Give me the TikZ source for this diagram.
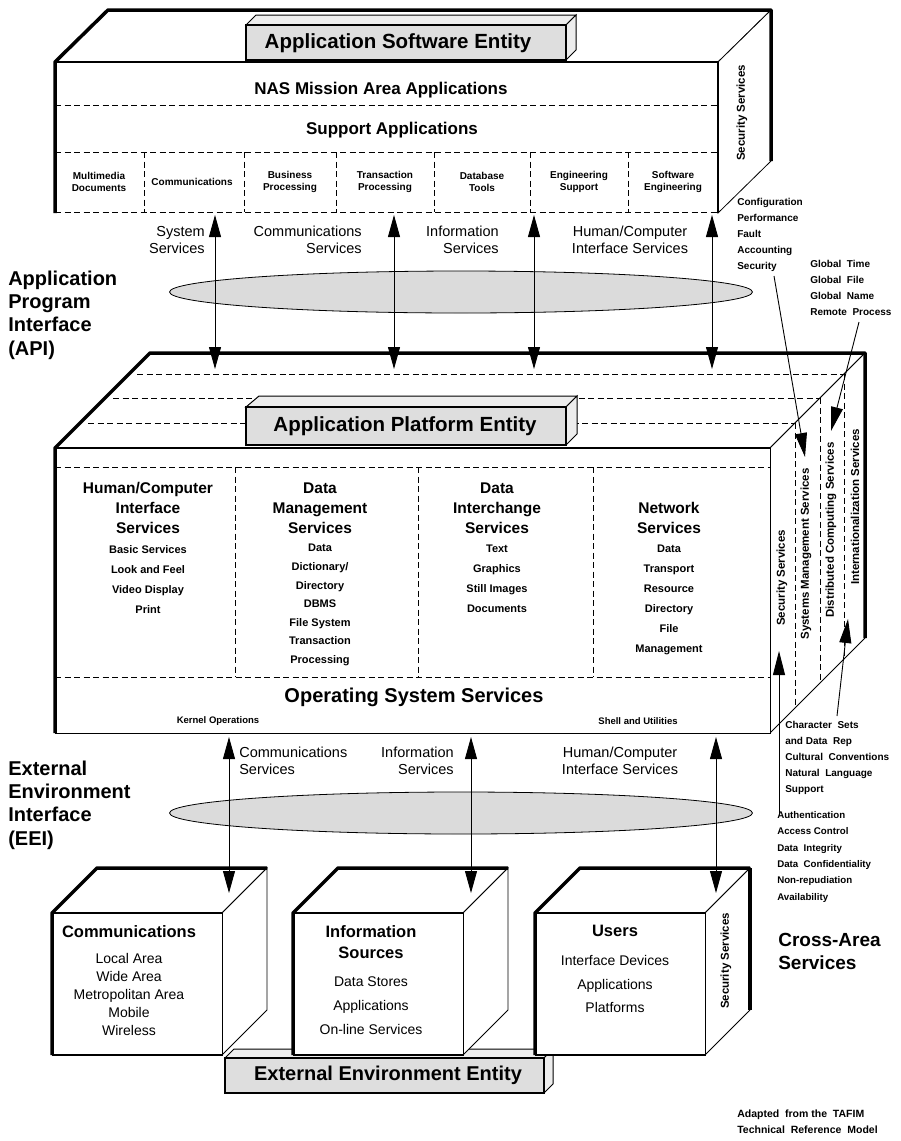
\documentclass[tikz,border=0pt]{standalone}
\usepackage{fontspec}
\setmainfont{Liberation Sans}
\usetikzlibrary{arrows.meta,positioning,shapes.geometric}

\begin{document}
\begin{tikzpicture}[
    x = 1pt, y = -1pt, % pixel grid, y runs down
    > = {Triangle[length=22pt,width=12pt]}, % arrow head style
    line join = miter,
    semithick % line style
    ]

    \tikzset{
    rim/.style = {line width=3.5pt, line join=round},
    face/.style = {draw=black, fill=white, line width=0.8pt},
    layer/.style = {dash pattern=on 6pt off 3.5pt, line width=0.9pt},
    tabfront/.style = {draw=black, fill=black!13, line width=2.2pt},
    tabtop/.style = {draw=black, fill=black!7, line width=1pt},
    entity/.style = {font=\fontsize{20.5}{24}\selectfont\bfseries, inner sep=0pt},
    heading/.style = {font=\fontsize{17}{20}\selectfont\bfseries, inner sep=0pt},
    cell/.style = {font=\fontsize{10}{12.5}\selectfont\bfseries, align=center, inner sep=0pt},
    colhead/.style = {font=\fontsize{15.5}{20}\selectfont\bfseries, align=center, anchor=south, inner sep=0pt},
    colitem/.style = {font=\fontsize{11}{20}\selectfont\bfseries, align=center, inner sep=0pt},
    strip/.style = {font=\fontsize{11.5}{13}\selectfont\bfseries, rotate=90, inner sep=0pt},
    note/.style = {font=\fontsize{10}{16}\selectfont\bfseries, align=left, anchor=north west, inner sep=0pt},
    iface/.style = {font=\fontsize{20}{23.3}\selectfont\bfseries, align=left, anchor=west, inner sep=0pt},
    svc/.style = {font=\fontsize{14.5}{17}\selectfont, inner sep=0pt},
    boxhead/.style = {font=\fontsize{16.5}{21}\selectfont\bfseries, align=center, anchor=north, inner sep=0pt},
    boxitem/.style = {font=\fontsize{14}{18}\selectfont, align=center, inner sep=0pt},
    bus/.style = {ellipse, draw=black, fill=black!14, line width=0.8pt, minimum width=583pt, minimum height=42pt, inner sep=0pt},
    io/.style = {<->, line width=0.9pt},
    pointer/.style = {-{Triangle[length=24pt,width=12pt]}, line width=0.9pt}
    }

    \fill[white] (0,0) rectangle (901,1141);
    \useasboundingbox (0,0) rectangle (901,1141);

    % application software entity
    \filldraw[face] (55,62) -- (108,10) -- (771,10) -- (718,62) -- cycle;
    \filldraw[face] (718,62) -- (771,10) -- (771,161) -- (718,213) -- cycle;
    \fill[white] (55,62) rectangle (718,213);
    \draw[line width=1.3pt] (55,62) -- (718,62) -- (718,213);
    \draw[layer] (55,212) -- (718,212);
    \draw[layer] (55,105) -- (718,105);
    \draw[layer] (55,152) -- (718,152);
    \foreach \x in {144,244,336,434,530,628}
        \draw[layer] (\x,152) -- (\x,212);
    \draw[rim] (55,213) -- (55,62) -- (108,10) -- (771,10) -- (771,161);

    \filldraw[tabtop] (246,25) -- (256,15) -- (576,15) -- (566,25) -- cycle;
    \filldraw[tabtop] (566,25) -- (576,15) -- (576,50) -- (566,60) -- cycle;
    \filldraw[tabfront] (246,25) rectangle (566,60);
    \node[entity] (aswtitle) at (398,43) {Application Software Entity};

    \node[heading] (nas) at (381,90) {NAS Mission Area Applications};
    \node[heading] (support) at (392,130) {Support Applications};
    \node[cell] (multimedia) at (99,182) {Multimedia\\Documents};
    \node[cell] (comms) at (192,182) {Communications};
    \node[cell] (business) at (290,182) {Business\\Processing};
    \node[cell] (transact) at (385,182) {Transaction\\Processing};
    \node[cell] (dbtools) at (482,182) {Database\\Tools};
    \node[cell] (engsup) at (579,182) {Engineering\\Support};
    \node[cell] (softeng) at (673,182) {Software\\Engineering};
    \node[strip] (aswsec) at (742,113) {Security Services};

    % application platform entity
    \filldraw[face] (55,448) -- (150,353) -- (865,353) -- (770,448) -- cycle;
    \filldraw[face] (770,448) -- (865,353) -- (865,638) -- (770,733) -- cycle;
    \filldraw[face] (55,448) rectangle (770,733);
    \foreach \d in {25,50,74} {
        \draw[layer] (63+\d,448-\d) -- (770+\d,448-\d);
        \draw[layer] (770+\d,448-\d) -- (770+\d,733-\d);
    }
    \draw[layer] (55,467) -- (770,467);
    \draw[layer] (55,677) -- (770,677);
    \foreach \x in {235,418,593}
        \draw[layer] (\x,467) -- (\x,677);
    \draw[line width=1.3pt] (55,448) -- (770,448);
    \draw[rim] (55,733) -- (55,448) -- (150,353) -- (865,353) -- (865,638);

    \filldraw[tabtop] (246,407) -- (259,396) -- (577,396) -- (566,407) -- cycle;
    \filldraw[tabtop] (566,407) -- (577,396) -- (577,434) -- (566,445) -- cycle;
    \filldraw[tabfront] (246,407) rectangle (566,445);
    \node[entity] (apetitle) at (405,426) {Application Platform Entity};

    \node[colhead] (hci) at (148,534) {Human/Computer\\Interface\\Services};
    \node[colitem] (hcilist) [below=11pt of hci] {Basic Services\\Look and Feel\\Video Display\\Print};
    \node[colhead] (dms) at (320,534) {Data\\Management\\Services};
    \node[colitem, font=\fontsize{11}{18.6}\selectfont\bfseries] (dmslist) [below=10pt of dms]
        {Data\\Dictionary/\\Directory\\DBMS\\File System\\Transaction\\Processing};
    \node[colhead] (dis) at (497,534) {Data\\Interchange\\Services};
    \node[colitem] (dislist) [below=11pt of dis] {Text\\Graphics\\Still Images\\Documents};
    \node[colhead] (nws) at (669,534) {Network\\Services};
    \node[colitem] (nwslist) [below=11pt of nws] {Data\\Transport\\Resource\\Directory\\File\\Management};

    \node[font=\fontsize{20}{24}\selectfont\bfseries, inner sep=0pt] (oss) at (414,697) {Operating System Services};
    \node[cell, font=\fontsize{9.5}{12}\selectfont\bfseries] (kernel) at (218,721) {Kernel Operations};
    \node[cell, font=\fontsize{9.5}{12}\selectfont\bfseries] (shell) at (638,721) {Shell and Utilities};

    \node[strip] (secsvc) at (782,578) {Security Services};
    \node[strip] (smsvc) at (806,554) {Systems Management Services};
    \node[strip] (dcsvc) at (831,530) {Distributed Computing Services};
    \node[strip] (i18nsvc) at (855,507) {Internationalization Services};

    % external environment entity
    \filldraw[tabtop] (225,1058) -- (234,1049) -- (553,1049) -- (544,1058) -- cycle;
    \filldraw[tabtop] (544,1058) -- (553,1049) -- (553,1084) -- (544,1093) -- cycle;
    \filldraw[tabfront] (225,1058) rectangle (544,1093);
    \node[entity, font=\fontsize{20}{24}\selectfont\bfseries] (eeetitle) at (388,1075) {External Environment Entity};

    \foreach \l in {52,293,535} {
        \filldraw[face] (\l,913) -- (\l+45,868) -- (\l+215,868) -- (\l+170,913) -- cycle;
        \filldraw[face] (\l+170,913) -- (\l+215,868) -- (\l+215,1010) -- (\l+170,1055) -- cycle;
        \filldraw[face] (\l,913) rectangle (\l+170,1055);
        \draw[line width=2.4pt] (\l,913) -- (\l+170,913);
        \draw[line width=2pt] (\l,1055) -- (\l+170,1055);
        \draw[rim] (\l,1055) -- (\l,913) -- (\l+45,868) -- (\l+215,868);
    }
    \draw[rim] (750,868) -- (750,1010);

    \node[boxhead] (comhd) at (129,925) {Communications};
    \node[boxitem] (comlist) [below=15pt of comhd] {Local Area\\Wide Area\\Metropolitan Area\\Mobile\\Wireless};
    \node[boxhead] (infhd) at (371,925) {Information\\Sources};
    \node[boxitem, font=\fontsize{14}{24}\selectfont] (inflist) [below=18pt of infhd] {Data Stores\\Applications\\On-line Services};
    \node[boxhead] (usrhd) at (615,925) {Users};
    \node[boxitem, font=\fontsize{14}{23.5}\selectfont] (usrlist) [below=18pt of usrhd] {Interface Devices\\Applications\\Platforms};
    \node[strip] (usrsec) at (726,961) {Security Services};

    % interfaces
    \node[iface] (api) at (8,315) {Application\\Program\\Interface\\(API)};
    \node[iface] (eei) at (8,805) {External\\Environment\\Interface\\(EEI)};

    \node[bus] (apibus) at (461,292) {};
    \node[bus] (eeibus) at (461,813) {};

    \node[svc, align=right, anchor=east] (syslbl) at (205,240) {System\\Services};
    \node[svc, align=right, anchor=east] (comlbl) at (362,240) {Communications\\Services};
    \node[svc, align=right, anchor=east] (inflbl) at (499,240) {Information\\Services};
    \node[svc, align=center] (hcilbl) at (630,240) {Human/Computer\\Interface Services};

    \node[svc, align=left, anchor=west] (comlbl2) at (239,761) {Communications\\Services};
    \node[svc, align=right, anchor=east] (inflbl2) at (454,761) {Information\\Services};
    \node[svc, align=center] (hcilbl2) at (620,761) {Human/Computer\\Interface Services};

    \foreach \x [count=\i] in {215,394,534,712} {
        \coordinate (apiT\i) at (\x,215);
        \coordinate (apiB\i) at (\x,369);
        \draw[io] (apiT\i) -- (apiB\i);
    }
    \foreach \x [count=\i] in {229,471,716} {
        \coordinate (eeiT\i) at (\x,737);
        \coordinate (eeiB\i) at (\x,893);
        \draw[io] (eeiT\i) -- (eeiB\i);
    }

    % cross-area services
    \node[note] (mgmt) at (737,198) {Configuration\\Performance\\Fault\\Accounting\\Security};
    \node[note] (dist) at (810,260) {Global\ \ Time\\Global\ \ File\\Global\ \ Name\\Remote\ \ Process};
    \node[note] (intl) at (785,721) {Character\ \ Sets\\and Data\ \ Rep\\Cultural\ \ Conventions\\Natural\ \ Language\\Support};
    \node[note, font=\fontsize{9.7}{16.4}\selectfont\bfseries] (secu) at (777,811) {Authentication\\Access Control\\Data\ \ Integrity\\Data\ \ Confidentiality\\Non-repudiation\\Availability};

    \coordinate (mgmt-out) at (774,276);
    \coordinate (sm-in) at (805,457);
    \coordinate (dist-out) at (859,322);
    \coordinate (dc-in) at (831,431);
    \coordinate (intl-out) at (837,716);
    \coordinate (i18n-in) at (848,619);
    \coordinate (secu-out) at (779,815);
    \coordinate (sec-in) at (779,651);
    \draw[pointer] (mgmt-out) -- (sm-in);
    \draw[pointer] (dist-out) -- (dc-in);
    \draw[pointer] (intl-out) -- (i18n-in);
    \draw[pointer] (secu-out) -- (sec-in);

    \node[font=\fontsize{19}{23}\selectfont\bfseries, align=left, anchor=west, inner sep=0pt] (cross) at (778,951) {Cross-Area\\Services};
    \node[note, font=\fontsize{10.5}{16}\selectfont\bfseries] (credit) at (737,1110) {Adapted\ \ from the\ \ TAFIM\\Technical\ \ Reference\ \ Model};
\end{tikzpicture}
\end{document}
